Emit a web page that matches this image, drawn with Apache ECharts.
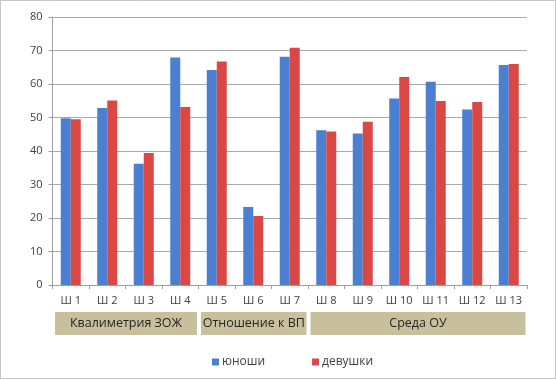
<!DOCTYPE html>
<html>
<head>
<meta charset="utf-8">
<script src="https://cdn.jsdelivr.net/npm/echarts@6/dist/echarts.min.js"></script>
<style>html,body{margin:0;padding:0;background:#fff}#c{width:556px;height:380px}</style>
</head>
<body>
<div id="c"></div>
<script>
const categories = ['Ш 1','Ш 2','Ш 3','Ш 4','Ш 5','Ш 6','Ш 7','Ш 8','Ш 9','Ш 10','Ш 11','Ш 12','Ш 13'];
const boys  = [49.8, 52.8, 36.2, 67.9, 64.2, 23.3, 68.1, 46.2, 45.2, 55.7, 60.7, 52.4, 65.7];
const girls = [49.5, 55.1, 39.4, 53.1, 66.7, 20.6, 70.8, 45.8, 48.7, 62.1, 54.9, 54.6, 66.0];
const groupNames = ['Квалиметрия ЗОЖ', 'Отношение к ВП', 'Среда ОУ'];
const groupStart = [0, 4, 7];
const groupEnd   = [3, 6, 12];
const seriesNames = ['юноши', 'девушки'];

const chart = echarts.init(document.getElementById('c'), null, {renderer: 'canvas'});
const font = 'Open Sans, Liberation Sans, sans-serif';
const groupData = groupNames.map((n, i) => [groupStart[i], groupEnd[i], n]);

chart.setOption({
  animation: false,
  backgroundColor: '#fff',
  textStyle: {fontFamily: font},
  grid: {left: 52.5, right: 29, top: 17, bottom: 95},
  legend: {
    data: seriesNames,
    left: 207, top: 351,
    icon: 'rect', itemWidth: 7, itemHeight: 7, itemGap: 47,
    textStyle: {fontSize: 12, color: '#404040', fontFamily: font, padding: [0,0,0,-2]}
  },
  xAxis: {
    type: 'category', data: categories,
    axisLine: {lineStyle: {color: '#a0a0a0'}},
    axisTick: {show: true, length: 4, lineStyle: {color: '#a0a0a0'}},
    axisLabel: {fontSize: 11, color: '#404040', margin: 10, fontFamily: font}
  },
  yAxis: {
    type: 'value', min: 0, max: 80, interval: 10,
    axisLine: {show: true, lineStyle: {color: '#a0a0a0'}},
    axisTick: {show: true, length: 4, lineStyle: {color: '#a0a0a0'}},
    axisLabel: {fontSize: 11, color: '#404040', margin: 10, fontFamily: font},
    splitLine: {lineStyle: {color: '#aaaaaa'}}
  },
  series: [
    {name: seriesNames[0], type: 'bar', data: boys, barWidth: 10, barGap: '0%',
     itemStyle: {color: '#4a7fd2'}},
    {name: seriesNames[1], type: 'bar', data: girls, barWidth: 10,
     itemStyle: {color: '#d94845'}},
    {type: 'custom', data: groupData, clip: false, silent: true,
     encode: {x: [0, 1]},
     renderItem: function (params, api) {
       const bw = api.size([1, 0])[0];
       const x0 = api.coord([api.value(0), 0]);
       const x1 = api.coord([api.value(1), 0]);
       const left = x0[0] - bw / 2 + 2.5;
       const right = x1[0] + bw / 2 - 1.5;
       const top = x0[1] + 27;
       return {
         type: 'group',
         children: [
           {type: 'rect', shape: {x: left, y: top, width: right - left, height: 23},
            style: {fill: '#c8c09c'}},
           {type: 'text', x: (left + right) / 2, y: top + 11.5,
            style: {text: groupNames[params.dataIndex], fill: '#262626', fontSize: 12.5,
                    fontFamily: font, align: 'center', verticalAlign: 'middle'}}
         ]
       };
     }}
  ],
  graphic: [{
    type: 'rect', shape: {x: 0.5, y: 0.5, width: 555, height: 378},
    style: {fill: null, stroke: '#8c8c8c', lineWidth: 1, lineDash: [1, 1]}, silent: true
  }]
});
</script>
</body>
</html>
